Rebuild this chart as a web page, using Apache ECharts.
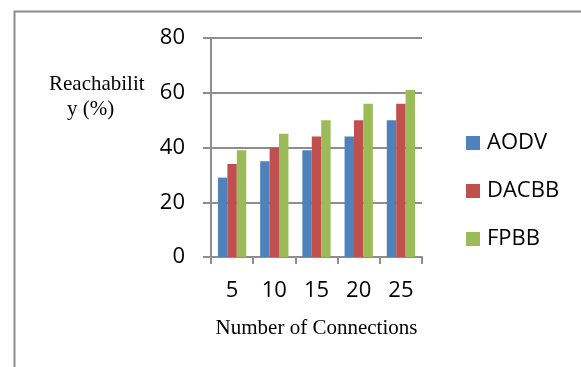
<!DOCTYPE html>
<html>
<head>
<meta charset="utf-8">
<style>
  html, body { margin: 0; padding: 0; background: #ffffff; }
  #chart { width: 581px; height: 367px; }
</style>
<script src="https://cdn.jsdelivr.net/npm/echarts@6/dist/echarts.min.js"></script>
</head>
<body>
<div id="chart"></div>
<script>
// Number of connections on the x axis
const connections = ['5', '10', '15', '20', '25'];

// Reachability (%) for each protocol
const aodv  = [29, 35, 39, 44, 50];
const dacbb = [34, 40, 44, 50, 56];
const fpbb  = [39, 45, 50, 56, 61];

const seriesNames = ['AODV', 'DACBB', 'FPBB'];
const seriesColors = ['#4F81BD', '#C0504D', '#9BBB59'];
const seriesData = [aodv, dacbb, fpbb];

const yTicks = { min: 0, max: 80, step: 20 };

const gridColor = '#8e8e8e';
const sansFont = '"Open Sans", "Liberation Sans", sans-serif';
const serifFont = '"Liberation Serif", "DejaVu Serif", serif';

const chart = echarts.init(document.getElementById('chart'), null, { renderer: 'canvas' });

chart.setOption({
  animation: false,
  backgroundColor: '#ffffff',
  grid: { left: 211, right: 159, top: 38, bottom: 110, containLabel: false },
  legend: {
    orient: 'vertical',
    left: 466,
    top: 132,
    padding: 0,
    icon: 'rect',
    itemWidth: 14,
    itemHeight: 14,
    itemGap: 26,
    textStyle: { fontFamily: sansFont, fontSize: 22, color: '#000', lineHeight: 22, padding: [0, 0, 0, 2] },
    data: seriesNames
  },
  xAxis: {
    type: 'category',
    data: connections,
    boundaryGap: true,
    axisLine: { show: true, lineStyle: { color: gridColor, width: 2 } },
    axisTick: { show: true, alignWithLabel: false, length: 7, lineStyle: { color: gridColor, width: 2 } },
    axisLabel: { margin: 23, fontFamily: sansFont, fontSize: 22, color: '#000' },
    splitLine: { show: false },
    name: 'Number of Connections',
    nameLocation: 'middle',
    nameGap: 61,
    nameTextStyle: { fontFamily: serifFont, fontSize: 21, color: '#000' }
  },
  yAxis: {
    type: 'value',
    min: yTicks.min,
    max: yTicks.max,
    interval: yTicks.step,
    axisLine: { show: true, lineStyle: { color: gridColor, width: 2 } },
    axisTick: { show: true, inside: false, length: 8, lineStyle: { color: gridColor, width: 2 } },
    axisLabel: { margin: 26, fontFamily: sansFont, fontSize: 22, color: '#000' },
    splitLine: { show: true, lineStyle: { color: gridColor, width: 2 } }
  },
  series: seriesNames.map((name, i) => ({
    name: name,
    type: 'bar',
    data: seriesData[i],
    barGap: '0%',
    barCategoryGap: '33%',
    itemStyle: { color: seriesColors[i] }
  })),
  graphic: [
    {
      type: 'rect',
      left: 12, top: 9,
      shape: { width: 640, height: 420 },
      style: { fill: 'none', stroke: '#8c8c8c', lineWidth: 2 },
      silent: true
    },
    {
      type: 'text',
      left: 49, top: 74,
      style: { text: 'Reachabilit', font: '21px ' + serifFont, fill: '#000' }
    },
    {
      type: 'text',
      left: 67, top: 99,
      style: { text: 'y (%)', font: '21px ' + serifFont, fill: '#000' }
    }
  ]
});
</script>
</body>
</html>
